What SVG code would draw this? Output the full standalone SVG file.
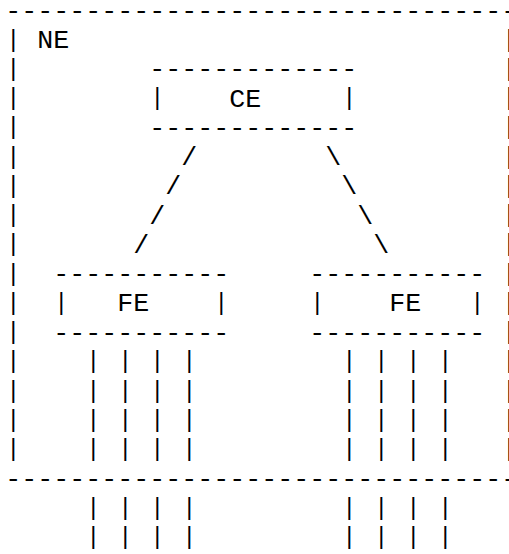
<svg xmlns="http://www.w3.org/2000/svg" width="509" height="554" viewBox="0 0 509 554">
<style>
.t{font-family:"Liberation Mono","Courier New",monospace;font-size:26.67px;fill:#000;white-space:pre}
.b{font-family:"Liberation Mono","Courier New",monospace;font-size:23.5px;fill:#000;text-anchor:middle}
</style>
<defs>
<g id="bars4">
<text class="b" x="0">|</text>
<text class="b" x="32">|</text>
<text class="b" x="64">|</text>
<text class="b" x="96">|</text>
</g>
</defs>
<rect width="509" height="554" fill="#fff"/>
<g id="NE">
<text class="t" x="5.33" y="18.7">--------------------------------</text>
<text class="t" x="37.33" y="47.97">NE</text>
<g id="NE-left" transform="translate(13.33,0)">
<text class="b" y="46.5">|</text>
<text class="b" y="75.77">|</text>
<text class="b" y="105.04">|</text>
<text class="b" y="134.31">|</text>
<text class="b" y="163.58">|</text>
<text class="b" y="192.85">|</text>
<text class="b" y="222.12">|</text>
<text class="b" y="251.39">|</text>
<text class="b" y="280.66">|</text>
<text class="b" y="309.93">|</text>
<text class="b" y="339.2">|</text>
<text class="b" y="368.47">|</text>
<text class="b" y="397.74">|</text>
<text class="b" y="427.01">|</text>
<text class="b" y="456.28">|</text>
</g>
<g id="NE-right" transform="translate(509.33,0)">
<text class="b" y="46.5">|</text>
<text class="b" y="75.77">|</text>
<text class="b" y="105.04">|</text>
<text class="b" y="134.31">|</text>
<text class="b" y="163.58">|</text>
<text class="b" y="192.85">|</text>
<text class="b" y="222.12">|</text>
<text class="b" y="251.39">|</text>
<text class="b" y="280.66">|</text>
<text class="b" y="309.93">|</text>
<text class="b" y="339.2">|</text>
<text class="b" y="368.47">|</text>
<text class="b" y="397.74">|</text>
<text class="b" y="427.01">|</text>
<text class="b" y="456.28">|</text>
</g>
<text class="t" x="5.33" y="487.02">--------------------------------</text>
</g>
<g id="CE">
<text class="t" x="149.33" y="77.24">-------------</text>
<text class="b" x="157.33" y="105.04">|</text>
<text class="t" x="229.33" y="106.51">CE</text>
<text class="b" x="349.33" y="105.04">|</text>
<text class="t" x="149.33" y="135.78">-------------</text>
</g>
<g id="FE1">
<text class="t" x="53.33" y="282.13">-----------</text>
<text class="b" x="61.33" y="309.93">|</text>
<text class="t" x="117.33" y="311.4">FE</text>
<text class="b" x="221.33" y="309.93">|</text>
<text class="t" x="53.33" y="340.67">-----------</text>
</g>
<g id="FE2">
<text class="t" x="309.33" y="282.13">-----------</text>
<text class="b" x="317.33" y="309.93">|</text>
<text class="t" x="389.33" y="311.4">FE</text>
<text class="b" x="477.33" y="309.93">|</text>
<text class="t" x="309.33" y="340.67">-----------</text>
</g>
<g id="connectors">
<text class="t" x="181.33" y="165.05">/</text>
<text class="t" x="165.33" y="194.32">/</text>
<text class="t" x="149.33" y="223.59">/</text>
<text class="t" x="133.33" y="252.86">/</text>
<text class="t" x="325.33" y="165.05">\</text>
<text class="t" x="341.33" y="194.32">\</text>
<text class="t" x="357.33" y="223.59">\</text>
<text class="t" x="373.33" y="252.86">\</text>
<use href="#bars4" x="93.33" y="368.47"/>
<use href="#bars4" x="93.33" y="397.74"/>
<use href="#bars4" x="93.33" y="427.01"/>
<use href="#bars4" x="93.33" y="456.28"/>
<use href="#bars4" x="93.33" y="514.82"/>
<use href="#bars4" x="93.33" y="544.09"/>
<use href="#bars4" x="349.33" y="368.47"/>
<use href="#bars4" x="349.33" y="397.74"/>
<use href="#bars4" x="349.33" y="427.01"/>
<use href="#bars4" x="349.33" y="456.28"/>
<use href="#bars4" x="349.33" y="514.82"/>
<use href="#bars4" x="349.33" y="544.09"/>
</g>
</svg>
